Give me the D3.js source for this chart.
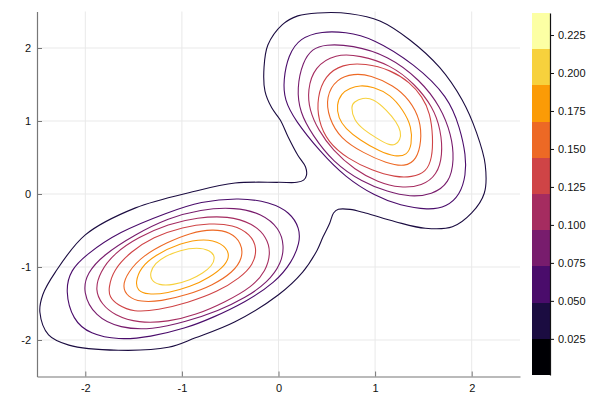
<!DOCTYPE html>
<html><head><meta charset="utf-8">
<script src="https://cdn.jsdelivr.net/npm/d3@7"></script>
<style>
body{margin:0;background:#fff}
svg{display:block}
text{font-family:"Liberation Sans",Arial,Helvetica,sans-serif}
</style>
</head><body>
<svg id="chart" width="600" height="400"></svg>
<script>
// ---------- data ----------
const xTicks = [-2, -1, 0, 1, 2];
const yTicks = [-2, -1, 0, 1, 2];
const colorbarTicks = [0.025, 0.05, 0.075, 0.1, 0.125, 0.15, 0.175, 0.2, 0.225];
const bandEdges = [0.0012, 0.0250, 0.0489, 0.0727, 0.0965, 0.1204, 0.1442, 0.1680, 0.1918, 0.2157, 0.2395];
const contourLevels = [0.0250, 0.0489, 0.0727, 0.0965, 0.1204, 0.1442, 0.1680, 0.1918];

// level 1 (outermost, both peaks joined)
const level1Joined = [[0.41,2.48],[0.74,2.47],[1.05,2.37],[1.36,2.11],[1.67,1.73],[1.90,1.29],[2.05,0.84],[2.14,0.40],[2.13,0.01],[2.00,-0.26],[1.80,-0.45],[1.52,-0.47],[1.21,-0.38],[0.90,-0.26],[0.74,-0.21],[0.62,-0.21],[0.57,-0.26],[0.53,-0.40],[0.46,-0.59],[0.40,-0.77],[0.25,-1.07],[0.00,-1.38],[-0.45,-1.75],[-0.86,-1.97],[-1.14,-2.10],[-1.66,-2.14],[-2.17,-2.07],[-2.38,-1.93],[-2.47,-1.62],[-2.44,-1.38],[-2.31,-1.07],[-2.00,-0.56],[-1.48,-0.19],[-0.89,0.03],[-0.45,0.15],[0.00,0.16],[0.19,0.16],[0.26,0.19],[0.29,0.26],[0.28,0.37],[0.20,0.53],[0.10,0.78],[0.02,1.01],[-0.07,1.18],[-0.14,1.41],[-0.15,1.73],[-0.11,2.04],[0.04,2.32],[0.20,2.44]];

// upper-right peak rings
const level2Upper = [[0.45,2.23],[0.69,2.22],[0.97,2.14],[1.41,1.78],[1.76,1.33],[1.88,0.90],[1.94,0.53],[1.94,0.26],[1.88,-0.01],[1.74,-0.18],[1.55,-0.22],[1.26,-0.16],[1.00,-0.03],[0.69,0.23],[0.43,0.58],[0.17,1.01],[0.06,1.29],[0.05,1.56],[0.10,1.90],[0.22,2.14]];
const level3Upper = [[0.48,2.05],[0.76,2.04],[1.13,1.90],[1.47,1.56],[1.68,1.19],[1.79,0.81],[1.82,0.47],[1.77,0.15],[1.59,-0.01],[1.36,-0.04],[1.13,0.03],[0.87,0.16],[0.56,0.44],[0.35,0.81],[0.22,1.12],[0.19,1.45],[0.25,1.81],[0.35,1.99]];
const level4Upper = [[0.59,1.92],[0.84,1.90],[1.16,1.77],[1.41,1.51],[1.60,1.19],[1.68,0.88],[1.70,0.53],[1.64,0.26],[1.49,0.11],[1.26,0.08],[1.03,0.16],[0.79,0.33],[0.56,0.60],[0.41,0.88],[0.32,1.15],[0.30,1.42],[0.37,1.74]];
const level5Upper = [[0.66,1.78],[0.90,1.79],[1.16,1.70],[1.36,1.53],[1.49,1.33],[1.57,1.11],[1.60,0.78],[1.59,0.49],[1.53,0.30],[1.38,0.23],[1.21,0.23],[0.97,0.32],[0.72,0.48],[0.51,0.71],[0.41,1.01],[0.40,1.32],[0.48,1.62]];
const level6Upper = [[0.60,1.58],[0.78,1.65],[0.95,1.63],[1.19,1.49],[1.36,1.29],[1.47,1.01],[1.48,0.72],[1.43,0.47],[1.31,0.37],[1.12,0.42],[0.88,0.56],[0.64,0.76],[0.52,1.04],[0.49,1.33]];
const level7Upper = [[0.74,1.45],[0.84,1.49],[0.98,1.47],[1.16,1.36],[1.29,1.15],[1.38,0.92],[1.38,0.67],[1.33,0.53],[1.21,0.51],[1.05,0.58],[0.84,0.74],[0.69,0.90],[0.62,1.04],[0.60,1.22],[0.65,1.38]];
const level8Upper = [[0.87,1.32],[0.98,1.31],[1.12,1.15],[1.22,0.99],[1.27,0.85],[1.26,0.74],[1.21,0.67],[1.14,0.67],[1.02,0.76],[0.88,0.88],[0.78,1.01],[0.75,1.20],[0.78,1.26]];

// lower-left peak rings
const level2Lower = [[-2.21,-1.32],[-2.15,-1.04],[-2.00,-0.84],[-1.66,-0.52],[-1.14,-0.25],[-0.81,-0.10],[-0.40,-0.05],[-0.09,-0.11],[0.12,-0.25],[0.22,-0.47],[0.22,-0.67],[0.14,-0.93],[-0.03,-1.21],[-0.34,-1.48],[-0.69,-1.70],[-0.96,-1.84],[-1.33,-1.96],[-1.66,-2.00],[-1.95,-1.92],[-2.13,-1.73]];
const level3Lower = [[-2.03,-1.34],[-1.98,-1.08],[-1.82,-0.84],[-1.48,-0.55],[-1.14,-0.33],[-0.81,-0.21],[-0.45,-0.18],[-0.17,-0.27],[0.01,-0.47],[0.06,-0.71],[0.03,-0.95],[-0.11,-1.21],[-0.34,-1.42],[-0.62,-1.60],[-0.96,-1.75],[-1.31,-1.86],[-1.64,-1.84],[-1.90,-1.68]];
const level4Lower = [[-1.90,-1.32],[-1.85,-1.07],[-1.70,-0.81],[-1.45,-0.59],[-1.14,-0.41],[-0.84,-0.32],[-0.52,-0.30],[-0.27,-0.40],[-0.12,-0.59],[-0.08,-0.81],[-0.13,-1.05],[-0.27,-1.27],[-0.55,-1.48],[-0.86,-1.66],[-1.14,-1.75],[-1.45,-1.77],[-1.70,-1.66],[-1.83,-1.51]];
const level5Lower = [[-1.76,-1.29],[-1.71,-1.04],[-1.53,-0.79],[-1.30,-0.59],[-0.99,-0.45],[-0.71,-0.40],[-0.47,-0.42],[-0.29,-0.55],[-0.22,-0.74],[-0.26,-0.97],[-0.40,-1.15],[-0.63,-1.34],[-0.94,-1.49],[-1.25,-1.59],[-1.50,-1.62],[-1.67,-1.52],[-1.75,-1.41]];
const level6Lower = [[-1.62,-1.27],[-1.56,-1.07],[-1.40,-0.84],[-1.15,-0.66],[-0.91,-0.53],[-0.68,-0.48],[-0.50,-0.52],[-0.38,-0.67],[-0.37,-0.88],[-0.47,-1.07],[-0.68,-1.25],[-0.94,-1.38],[-1.22,-1.47],[-1.43,-1.48],[-1.56,-1.41]];
const level7Lower = [[-1.48,-1.21],[-1.43,-1.01],[-1.28,-0.84],[-1.02,-0.67],[-0.76,-0.61],[-0.59,-0.67],[-0.50,-0.81],[-0.54,-0.97],[-0.72,-1.15],[-0.91,-1.27],[-1.15,-1.36],[-1.36,-1.38],[-1.46,-1.32]];
const level8Lower = [[-1.33,-1.08],[-1.28,-0.95],[-1.17,-0.85],[-1.02,-0.77],[-0.84,-0.73],[-0.71,-0.77],[-0.65,-0.86],[-0.69,-0.99],[-0.78,-1.08],[-0.91,-1.18],[-1.10,-1.25],[-1.24,-1.25],[-1.32,-1.18]];

const contourRings = [
  {level: 0, ring: level1Joined, joined: true},
  {level: 1, ring: level2Upper}, {level: 1, ring: level2Lower},
  {level: 2, ring: level3Upper}, {level: 2, ring: level3Lower},
  {level: 3, ring: level4Upper}, {level: 3, ring: level4Lower},
  {level: 4, ring: level5Upper}, {level: 4, ring: level5Lower},
  {level: 5, ring: level6Upper}, {level: 5, ring: level6Lower},
  {level: 6, ring: level7Upper}, {level: 6, ring: level7Lower},
  {level: 7, ring: level8Upper}, {level: 7, ring: level8Lower}
];

// ---------- drawing ----------
const svg = d3.select("#chart");
const x = d3.scaleLinear().domain([-2.5, 2.5]).range([37, 520]);
const y = d3.scaleLinear().domain([-2.5, 2.5]).range([376.5, 11.5]);
const cb = d3.scaleLinear().domain([bandEdges[0], bandEdges[bandEdges.length - 1]]).range([375, 13]);
const nBands = bandEdges.length - 1;
const bandColor = i => d3.interpolateInferno(i / (nBands - 1));
const levelColor = k => {
  const idx = bandEdges.findIndex(e => Math.abs(e - contourLevels[k]) < 1e-4);
  return bandColor(idx);
};

// grid
const grid = svg.append("g");
grid.selectAll("line.gx").data(xTicks).join("line")
  .attr("x1", d => x(d)).attr("x2", d => x(d))
  .attr("y1", y(-2.5)).attr("y2", y(2.5))
  .attr("stroke", "#e9e9e9").attr("stroke-width", 1);
grid.selectAll("line.gy").data(yTicks).join("line")
  .attr("y1", d => y(d)).attr("y2", d => y(d))
  .attr("x1", x(-2.5)).attr("x2", x(2.5))
  .attr("stroke", "#e9e9e9").attr("stroke-width", 1);

// contours
const lineJoined = d3.line().x(d => x(d[0])).y(d => y(d[1])).curve(d3.curveCatmullRomClosed.alpha(0.5));
const lineRing = d3.line().x(d => x(d[0])).y(d => y(d[1])).curve(d3.curveBasisClosed);
svg.append("g").selectAll("path").data(contourRings).join("path")
  .attr("d", d => d.joined ? lineJoined(d.ring) : lineRing(d.ring))
  .attr("fill", "none")
  .attr("stroke", d => levelColor(d.level))
  .attr("stroke-width", 1.1);

// axes
const xAxis = d3.axisBottom(x).tickValues(xTicks).tickSizeInner(-5).tickSizeOuter(0).tickPadding(8);
const gx = svg.append("g").attr("transform", `translate(0,${y(-2.5)})`).call(xAxis);
const yAxis = d3.axisLeft(y).tickValues(yTicks).tickSizeInner(-5).tickSizeOuter(0).tickPadding(6);
const gy = svg.append("g").attr("transform", `translate(${x(-2.5)},0)`).call(yAxis);
[gx, gy].forEach(g => {
  g.select(".domain").attr("stroke", "#777").attr("stroke-width", 1.2);
  g.selectAll(".tick line").attr("stroke", "#777");
  g.selectAll(".tick text").attr("fill", "#111").attr("font-size", 11)
    .text(d => d < 0 ? "-" + Math.abs(d) : String(d));
});

// colorbar
const bands = d3.range(nBands).map(i => ({lo: bandEdges[i], hi: bandEdges[i + 1], i}));
svg.append("g").selectAll("rect").data(bands).join("rect")
  .attr("x", 532).attr("width", 18)
  .attr("y", d => cb(d.hi)).attr("height", d => cb(d.lo) - cb(d.hi))
  .attr("fill", d => bandColor(d.i)).attr("shape-rendering", "crispEdges");
const cAxis = d3.axisRight(cb).tickValues(colorbarTicks).tickSizeInner(4).tickSizeOuter(0).tickPadding(4).tickFormat(d3.format(".3f"));
const gc = svg.append("g").attr("transform", "translate(550,0)").call(cAxis);
gc.select(".domain").attr("stroke", "#111").attr("stroke-width", 1.2);
gc.selectAll(".tick line").attr("stroke", "#111");
gc.selectAll(".tick text").attr("fill", "#111").attr("font-size", 11);
</script>
</body></html>
